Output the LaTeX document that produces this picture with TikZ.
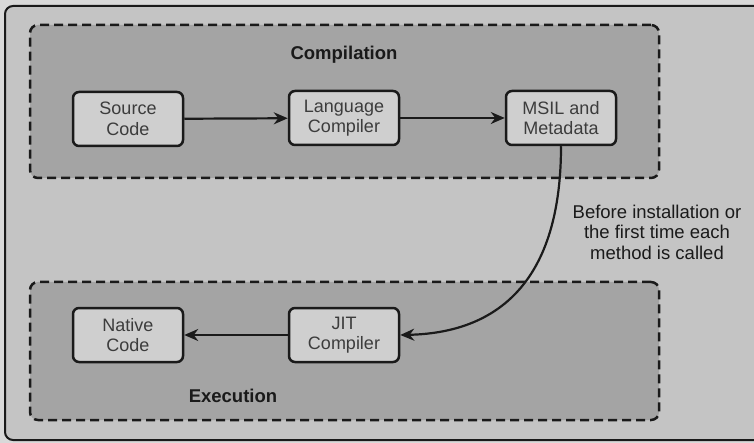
\documentclass[tikz,border=0pt]{standalone}
\usepackage{fontspec}
\setmainfont{Liberation Sans}
\usetikzlibrary{arrows.meta}
\definecolor{pagebg}{HTML}{D9D9D9}
\definecolor{framebg}{HTML}{C4C4C4}
\definecolor{groupbg}{HTML}{A4A4A4}
\definecolor{nodebg}{HTML}{CFCFCF}
\definecolor{ink}{HTML}{1A1A1A}
\tikzset{
  frame/.style={draw=ink, line width=2pt, fill=framebg, rounded corners=8pt},
  group/.style={draw=ink, line width=2.5pt, dash pattern=on 9pt off 5pt, fill=groupbg, rounded corners=8pt, inner sep=0pt},
  proc/.style={draw=ink, line width=2.5pt, fill=nodebg, rounded corners=6pt, minimum width=110pt, minimum height=54pt, align=center, inner sep=0pt, font=\fontsize{18}{20.5}\selectfont, text=ink!85},
  title/.style={font=\fontsize{18.5}{21}\selectfont\bfseries, text=ink},
  note/.style={font=\fontsize{18.5}{20.5}\selectfont, align=center, text=ink},
  conn/.style={draw=ink, line width=2.2pt, -{Stealth[length=14pt,width=12pt]}}
}
\begin{document}
\begin{tikzpicture}[x=1pt,y=-1pt]
\useasboundingbox (0,0) rectangle (754,443);
\fill[pagebg] (0,0) rectangle (754,443);
\begin{scope}
\clip (0,0) rectangle (754,443);
\draw[frame] (5,6) rectangle (780,440);
\end{scope}
\node[group, minimum width=629pt, minimum height=153pt] (comp) at (344.5,101.5) {};
\node[group, minimum width=629pt, minimum height=138pt] (exec) at (344.5,351) {};
\node[title] (comptitle) at (344,55) {Compilation};
\node[title] (exectitle) at (233,396) {Execution};
\node[proc] (src) at (128,119) {Source\\Code};
\node[proc] (lc) at (344,118) {Language\\Compiler};
\node[proc] (msil) at (561,118) {MSIL and\\Metadata};
\node[proc] (native) at (128,335) {Native\\Code};
\node[proc] (jit) at (344,335) {JIT\\Compiler};
\node[note] (lbl) at (657,232) {Before installation or\\the first time each\\method is called};
\draw[conn] (src) -- (lc);
\draw[conn] (lc) -- (msil);
\draw[conn] (jit) -- (native);
\draw[conn] (msil.south) .. controls (561,290) and (490,333) .. (jit.east);
\end{tikzpicture}
\end{document}
